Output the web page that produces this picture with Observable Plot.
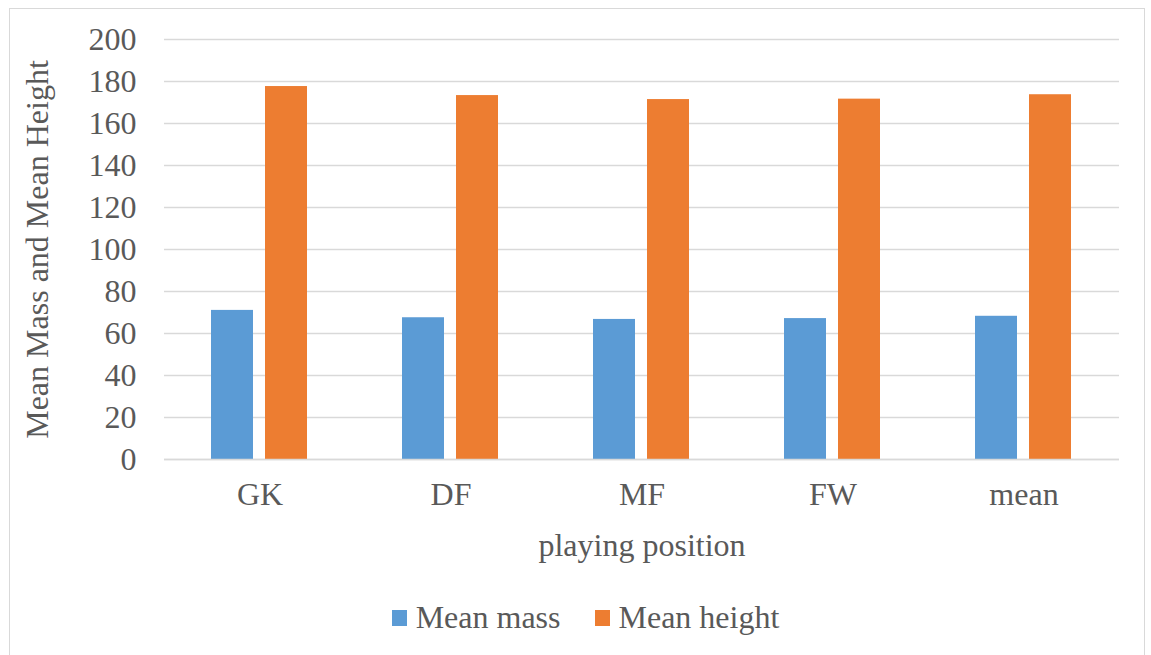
<!DOCTYPE html>
<html>
<head>
<meta charset="utf-8">
<script src="https://cdn.jsdelivr.net/npm/d3@7"></script>
<script src="https://cdn.jsdelivr.net/npm/@observablehq/plot@0.6"></script>
<style>
  html, body { margin: 0; padding: 0; background: #fff; }
  #frame { position: absolute; left: 9px; top: 8px; width: 1136px; height: 660px; border: 1px solid #d9d9d9; box-sizing: border-box; }
  #chart { position: absolute; left: 0; top: 0; }
  #legend { position: absolute; left: 10px; top: 599px; width: 1151px; display: flex; justify-content: center; align-items: center; font-family: "Liberation Serif", "Times New Roman", serif; font-size: 32px; color: #595959; }
  .item { display: flex; align-items: center; margin: 0 17px; }
  .sw { width: 15px; height: 16px; margin-right: 9px; }
</style>
</head>
<body>
<div id="frame"></div>
<div id="chart"></div>
<div id="legend"></div>
<script>
const positions = ["GK", "DF", "MF", "FW", "mean"];
const meanMass = [71, 67.5, 66.7, 67.1, 68.2];
const meanHeight = [177.6, 173.3, 171.4, 171.6, 173.7];
const seriesNames = ["Mean mass", "Mean height"];
const seriesColors = ["#5b9bd5", "#ed7d31"];
const yTicks = [0, 20, 40, 60, 80, 100, 120, 140, 160, 180, 200];

const data = [];
positions.forEach((p, i) => {
  data.push({position: p, series: seriesNames[0], value: meanMass[i]});
  data.push({position: p, series: seriesNames[1], value: meanHeight[i]});
});

const font = "Liberation Serif, Times New Roman, serif";
const chart = Plot.plot({
  width: 1151,
  height: 590,
  marginLeft: 163,
  marginRight: 31,
  marginTop: 39,
  marginBottom: 131,
  style: {fontFamily: font, fontSize: "32px", color: "#595959", background: "transparent"},
  x: {domain: seriesNames, paddingInner: 0.22, paddingOuter: 0.85, axis: null},
  fx: {domain: positions, padding: 0},
  y: {domain: [0, 200], ticks: yTicks},
  color: {domain: seriesNames, range: seriesColors},
  marks: [
    Plot.gridY(yTicks, {stroke: "#d9d9d9", strokeOpacity: 1, strokeWidth: 1.3}),
    Plot.barY(data, {
      fx: "position",
      x: "series",
      y: "value",
      fill: "series"
    }),
    Plot.axisY({ticks: yTicks, tickSize: 0, tickPadding: 28, fontSize: 32, label: "Mean Mass and Mean Height", labelAnchor: "center", labelArrow: "none", labelOffset: 139}),
    Plot.axisFx({anchor: "bottom", tickSize: 0, tickPadding: 23, fontSize: 32, label: "playing position", labelAnchor: "center", labelArrow: "none", labelOffset: 96}),
    Plot.ruleY([0], {stroke: "#d9d9d9", strokeWidth: 1.3})
  ]
});
document.getElementById("chart").appendChild(chart);

const legend = document.getElementById("legend");
seriesNames.forEach((name, i) => {
  const item = document.createElement("div");
  item.className = "item";
  const sw = document.createElement("div");
  sw.className = "sw";
  sw.style.background = seriesColors[i];
  const t = document.createElement("span");
  t.textContent = name;
  item.appendChild(sw);
  item.appendChild(t);
  legend.appendChild(item);
});
</script>
</body>
</html>
